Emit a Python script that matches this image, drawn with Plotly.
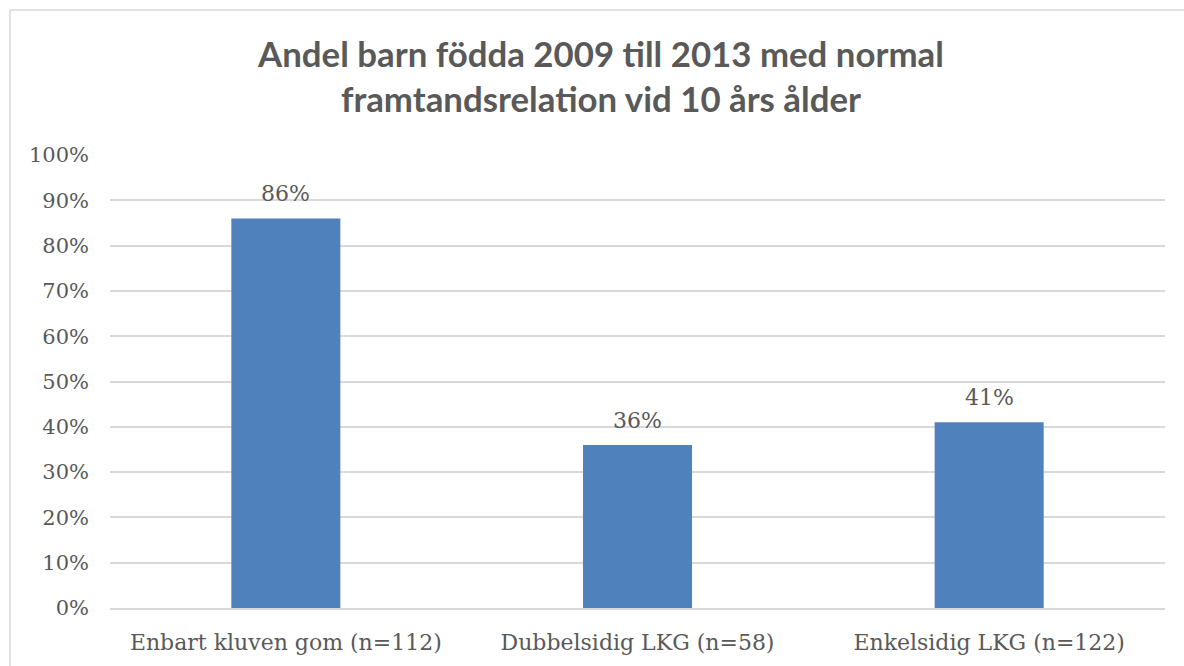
import plotly.graph_objects as go

categories = ["Enbart kluven gom (n=112)", "Dubbelsidig LKG (n=58)", "Enkelsidig LKG (n=122)"]
values = [86, 36, 41]
labels = ["86%", "36%", "41%"]
tick_vals = [0, 10, 20, 30, 40, 50, 60, 70, 80, 90, 100]
tick_text = [f"{v}%" for v in tick_vals]
title_text = "Andel barn födda 2009 till 2013 med normal<br>framtandsrelation vid 10 års ålder"

serif = "DejaVu Serif, Liberation Serif, serif"
grey = "#595959"

fig = go.Figure(go.Bar(
    x=categories, y=values,
    marker=dict(color="#4F81BD", line=dict(width=0)),
    hoverinfo="skip",
))

for c, v, t in zip(categories, values, labels):
    fig.add_annotation(x=c, y=v, text=t, showarrow=False, xanchor="center", yanchor="bottom",
                       yshift=10, font=dict(family=serif, size=22, color=grey))

fig.update_layout(
    width=1184, height=666,
    margin=dict(l=110, r=19, t=155, b=58),
    paper_bgcolor="white", plot_bgcolor="white",
    bargap=0.69,
    showlegend=False,
    title=dict(text=title_text, x=0.5076, xanchor="center", y=0.9, yanchor="middle",
               font=dict(family="Lato, Open Sans, sans-serif", size=34.8, color=grey, weight="bold")),
    xaxis=dict(showgrid=False, showline=True, linecolor="#D9D9D9", linewidth=1.5,
               tickfont=dict(family=serif, size=22, color=grey), ticks="", ticklabelstandoff=14),
    yaxis=dict(range=[0, 100], tickvals=tick_vals, ticktext=tick_text,
               showgrid=True, gridcolor="#D9D9D9", gridwidth=1.5, zeroline=False,
               tickfont=dict(family=serif, size=21, color=grey), ticks="", ticklabelstandoff=20),
    shapes=[dict(type="rect", xref="paper", yref="paper",
                 x0=(10 - 110) / 1055, x1=(1195 - 110) / 1055,
                 y0=(608 - 680) / 453, y1=(608 - 10) / 453,
                 line=dict(color="#D9D9D9", width=1.5), fillcolor="rgba(0,0,0,0)", layer="below")],
)

fig.write_html("out.html", config={"displayModeBar": False},
               post_script="document.body.style.margin='0';document.body.style.overflow='hidden';")
